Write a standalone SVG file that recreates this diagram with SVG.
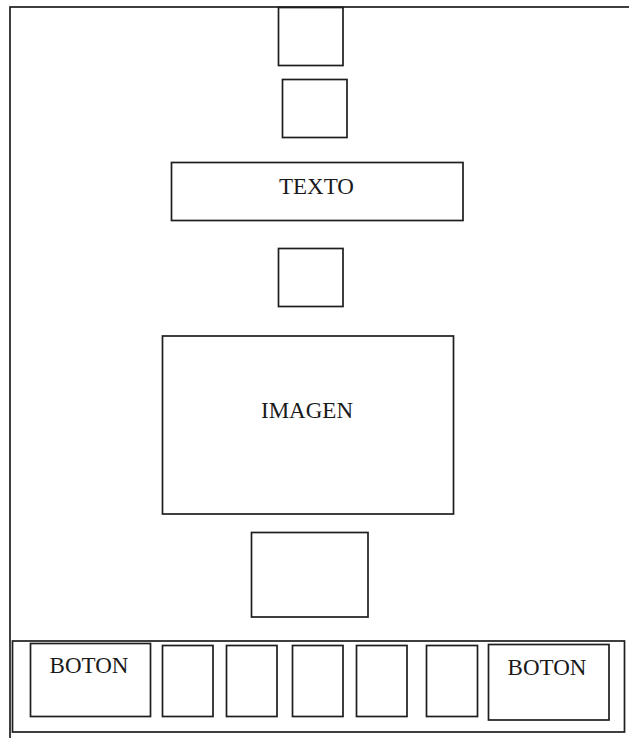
<svg xmlns="http://www.w3.org/2000/svg" width="629" height="738" viewBox="0 0 629 738">
<style>
rect{fill:none;stroke:#1e1e1e;stroke-width:1.7}
rect.frame{fill:#fff}
text{font-family:"Liberation Serif","Times New Roman",serif;font-size:23px;fill:#1a1a1a;text-anchor:middle}
</style>
<rect class="frame" x="10" y="7" width="640" height="760"/>
<g id="connectors"></g>
<g id="box-top1"><rect x="278.5" y="7.5" width="64.5" height="58"/></g>
<g id="box-top2"><rect x="282.5" y="79.5" width="64.5" height="58"/></g>
<g id="texto"><rect x="171.5" y="162.5" width="291.5" height="58"/><text x="316.5" y="194">TEXTO</text></g>
<g id="box-mid"><rect x="278.5" y="248.5" width="64.5" height="58"/></g>
<g id="imagen"><rect x="162.5" y="336" width="291" height="178"/><text x="307" y="418">IMAGEN</text></g>
<g id="box-low"><rect x="251.5" y="532.5" width="116.5" height="84.5"/></g>
<g id="bar"><rect x="12.5" y="641" width="612" height="91"/></g>
<g id="boton1"><rect x="30.5" y="643.5" width="120" height="73"/><text x="89" y="673">BOTON</text></g>
<g id="slot1"><rect x="162.5" y="645.5" width="50.5" height="71"/></g>
<g id="slot2"><rect x="226.5" y="645.5" width="50.5" height="71"/></g>
<g id="slot3"><rect x="292.5" y="645.5" width="50.5" height="71"/></g>
<g id="slot4"><rect x="356.5" y="645.5" width="50.5" height="71"/></g>
<g id="slot5"><rect x="426.5" y="645.5" width="51" height="71"/></g>
<g id="boton2"><rect x="488.5" y="644.5" width="120.5" height="75.5"/><text x="547" y="675">BOTON</text></g>
</svg>
